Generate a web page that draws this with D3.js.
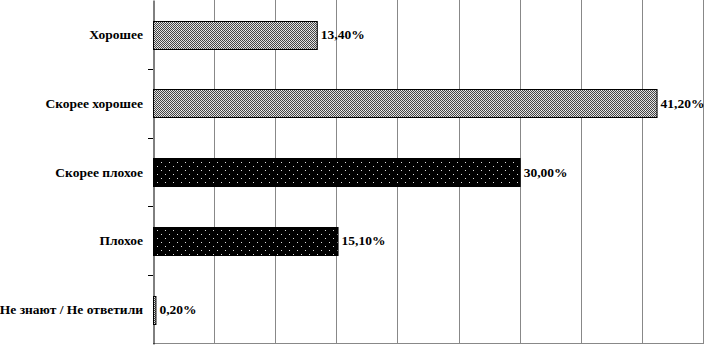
<!DOCTYPE html>
<html><head><meta charset="utf-8">
<script src="https://cdn.jsdelivr.net/npm/d3@7"></script>
<style>body{margin:0;background:#fff}svg{display:block}</style>
</head><body>
<svg id="c" width="707" height="345"></svg>
<script>
const categories = ["Хорошее","Скорее хорошее","Скорее плохое","Плохое","Не знают / Не ответили"];
const values = [13.4, 41.2, 30.0, 15.1, 0.2];
const valueLabels = ["13,40%","41,20%","30,00%","15,10%","0,20%"];
const patterns = ["light","light","dark","dark","light"];
const xTicks = [0,5,10,15,20,25,30,35,40,45];

const svg = d3.select("#c");
const m = {left:153, right:4, top:0, bottom:1};
const W = 707, H = 345;
const x = d3.scaleLinear().domain([0,45]).range([m.left, W - m.right]);
const y = d3.scaleBand().domain(categories).range([m.top, H - m.bottom]).paddingInner(0.6).paddingOuter(0.3);
const yb = d3.scaleBand().domain(categories).range([m.top, H - m.bottom]);

const defs = svg.append("defs");
const pl = defs.append("pattern").attr("id","light").attr("patternUnits","userSpaceOnUse").attr("width",8).attr("height",8);
pl.append("rect").attr("width",8).attr("height",8).attr("fill","#e0e0e0");
for (let i=0;i<8;i++) for (let j=0;j<8;j++) if ((i+j)%2===0) pl.append("rect").attr("x",i).attr("y",j).attr("width",1).attr("height",1).attr("fill","#444");
pl.append("rect").attr("x",1).attr("y",2).attr("width",1).attr("height",1).attr("fill","#fff");
pl.append("rect").attr("x",5).attr("y",6).attr("width",1).attr("height",1).attr("fill","#fff");
const pd = defs.append("pattern").attr("id","dark").attr("patternUnits","userSpaceOnUse").attr("width",8).attr("height",8);
pd.append("rect").attr("width",8).attr("height",8).attr("fill","#000");
pd.append("rect").attr("x",1).attr("y",2).attr("width",1).attr("height",1).attr("fill","#ddd");
pd.append("rect").attr("x",5).attr("y",6).attr("width",1).attr("height",1).attr("fill","#ddd");

// gridlines
svg.append("g").selectAll("line").data(xTicks.slice(1)).join("line")
  .attr("x1",d=>Math.round(x(d))+0.5).attr("x2",d=>Math.round(x(d))+0.5)
  .attr("y1",m.top).attr("y2",H-m.bottom)
  .attr("stroke","#888").attr("stroke-width",1);
// bottom border
svg.append("line").attr("x1",x(0)).attr("x2",x(45)+1).attr("y1",H-m.bottom-0.5).attr("y2",H-m.bottom-0.5).attr("stroke","#888");

// left axis
const yAxis = d3.axisLeft(yb).tickSize(0).tickPadding(10).tickFormat(()=>"");
const ga = svg.append("g").attr("transform",`translate(${m.left+0.5},0)`).call(yAxis);
ga.select(".domain").attr("stroke","#000");
// category boundary ticks
svg.append("g").selectAll("line").data(categories.slice(1)).join("line")
  .attr("x1",m.left-5).attr("x2",m.left)
  .attr("y1",d=>Math.round(yb(d))+0.5).attr("y2",d=>Math.round(yb(d))+0.5)
  .attr("stroke","#000");

// bars
const data = categories.map((c,i)=>({c, v:values[i], l:valueLabels[i], p:patterns[i]}));
svg.append("g").selectAll("rect").data(data).join("rect")
  .attr("x",x(0)+0.5).attr("y",d=>Math.round(y(d.c))+0.5)
  .attr("width",d=>Math.max(1,x(d.v)-x(0)))
  .attr("height",Math.round(y.bandwidth()))
  .attr("fill",d=>`url(#${d.p})`).attr("stroke","#000").attr("stroke-width",1);

// category labels
svg.append("g").selectAll("text").data(data).join("text")
  .attr("x",m.left-10).attr("y",d=>yb(d.c)+yb.bandwidth()/2)
  .attr("text-anchor","end").attr("dominant-baseline","central")
  .attr("font-family","'Liberation Serif','Times New Roman',serif").attr("font-weight","bold").attr("font-size",13.5)
  .text(d=>d.c);
// value labels
svg.append("g").selectAll("text").data(data).join("text")
  .attr("x",d=>x(d.v)+4).attr("y",d=>y(d.c)+y.bandwidth()/2)
  .attr("dominant-baseline","central")
  .attr("font-family","'Liberation Serif','Times New Roman',serif").attr("font-weight","bold").attr("font-size",13.5)
  .text(d=>d.l);
</script>
</body></html>
